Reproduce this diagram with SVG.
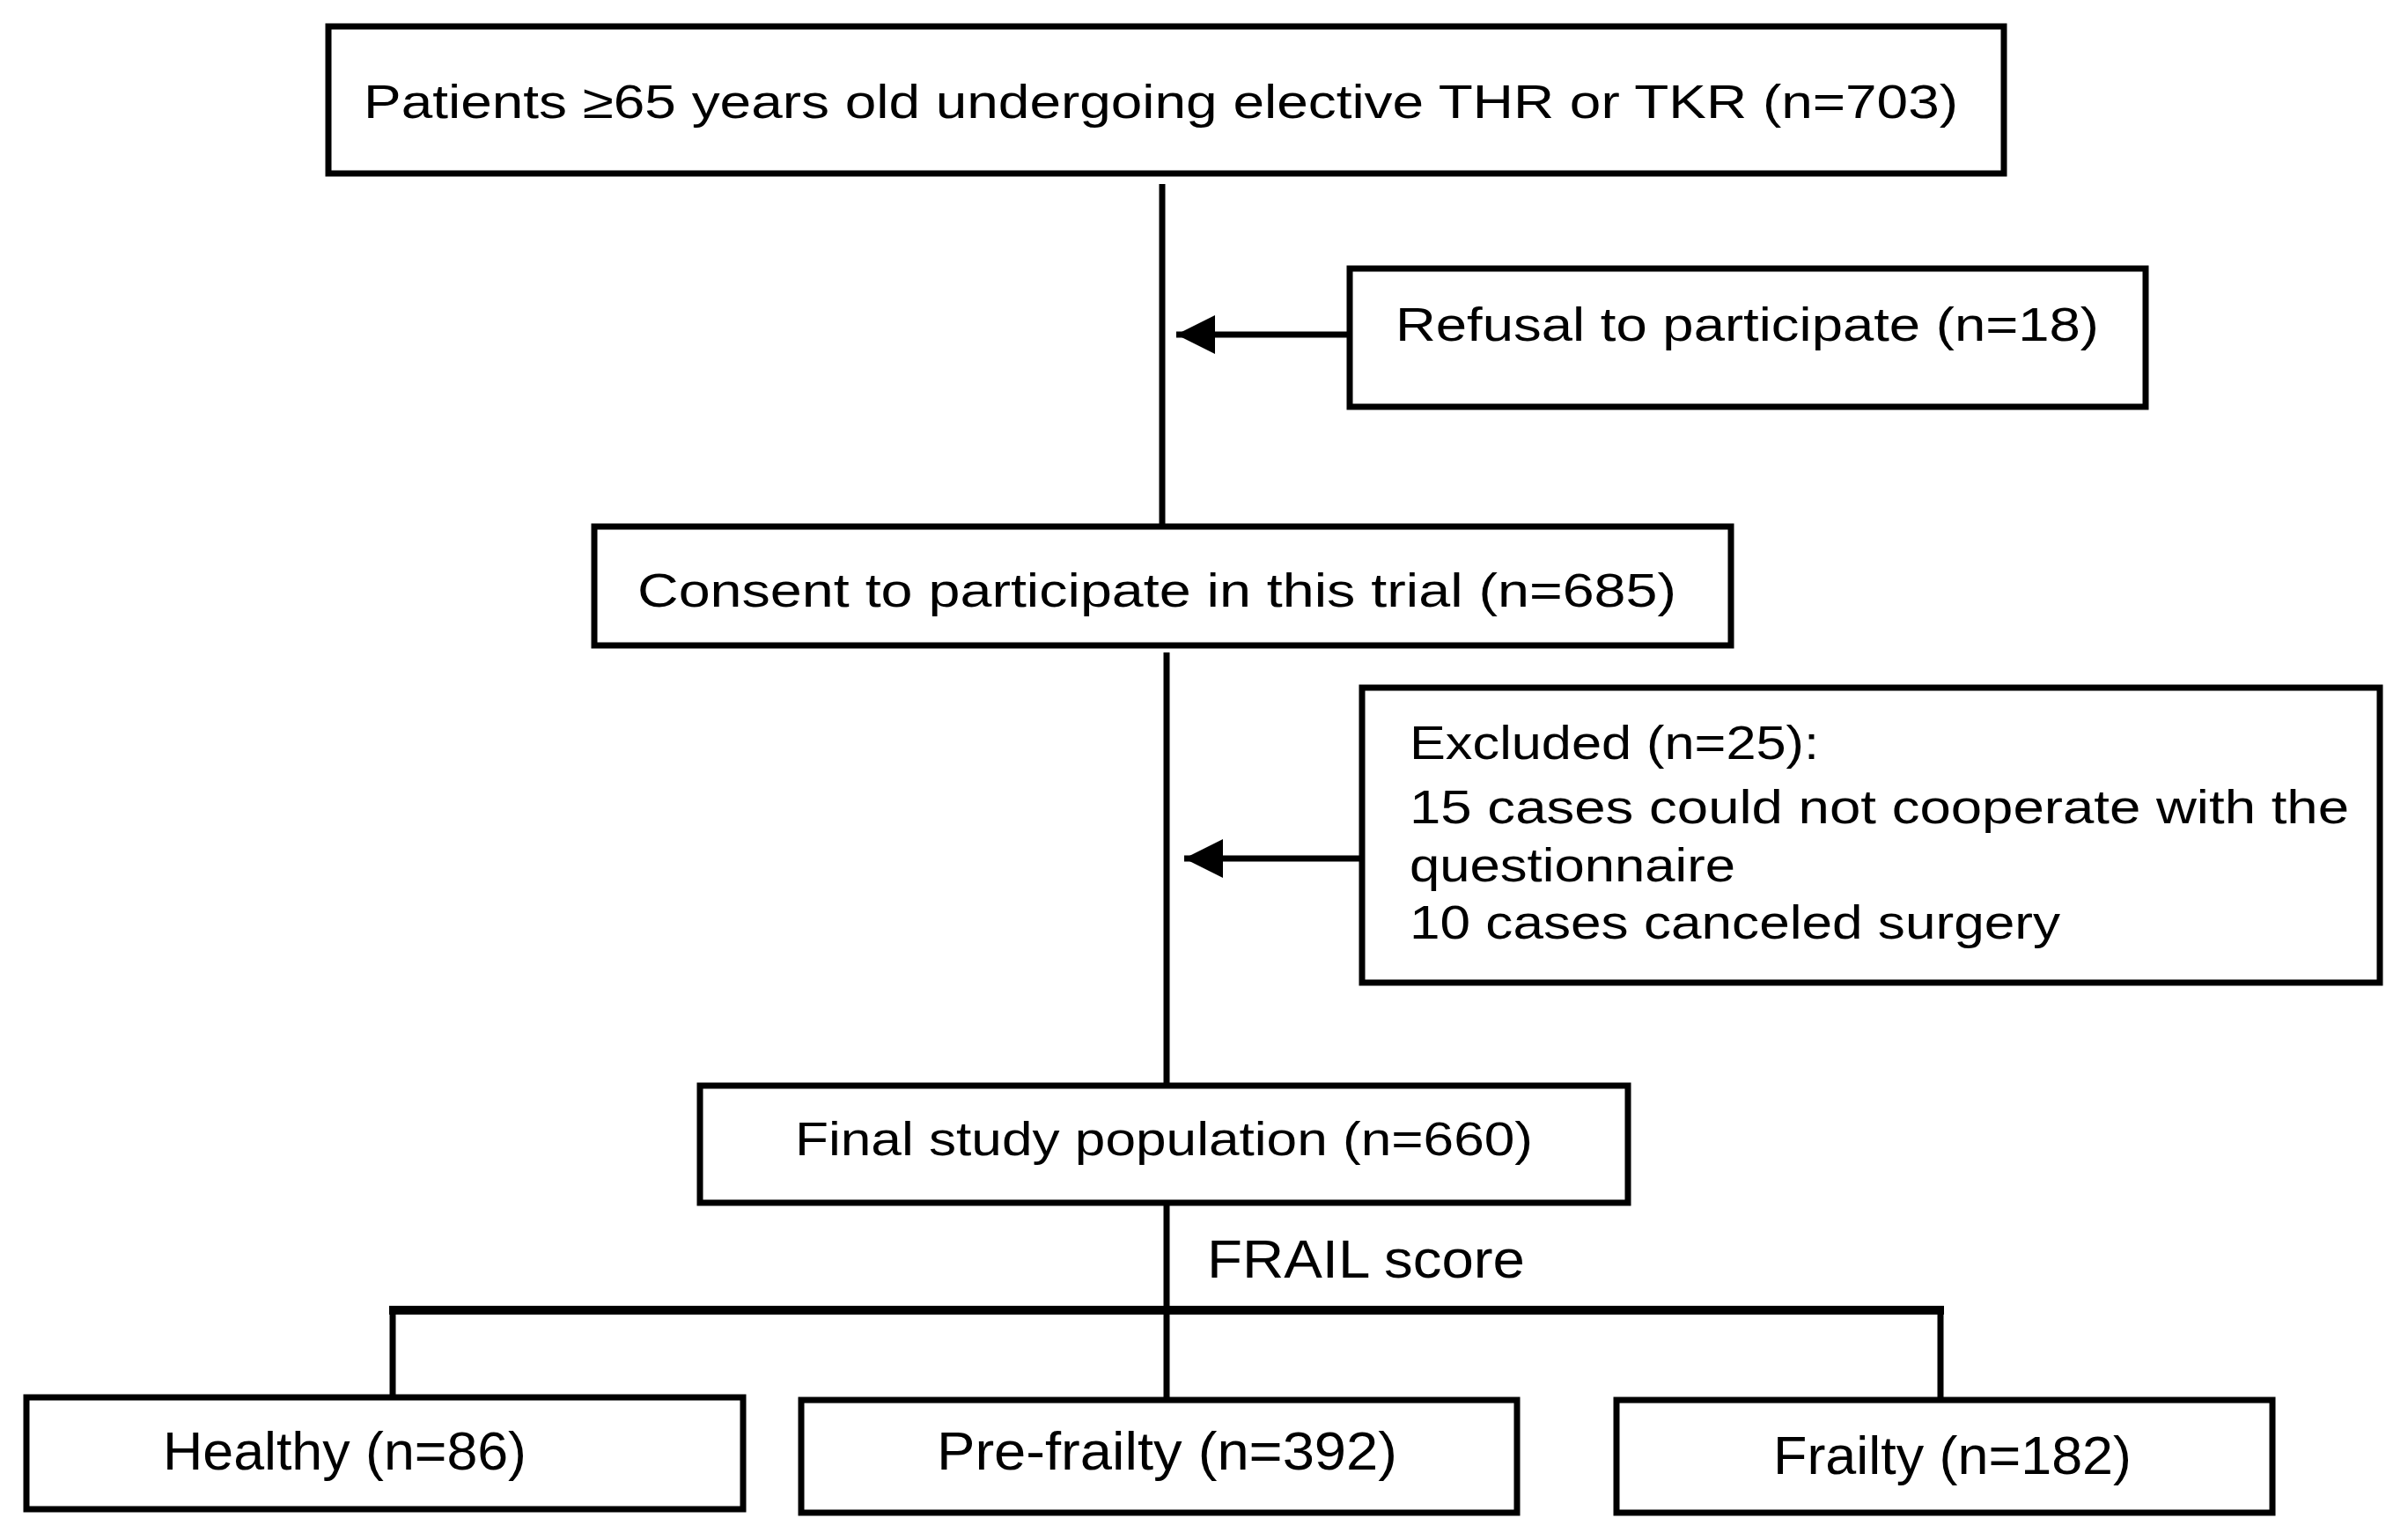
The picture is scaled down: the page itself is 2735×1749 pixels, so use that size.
<svg xmlns="http://www.w3.org/2000/svg" width="2735" height="1749" viewBox="0 0 2735 1749">
<style>
.box{fill:#fff;stroke:#000;stroke-width:7}
.t{font-family:"Liberation Sans",Arial,sans-serif;font-size:54px;fill:#000}
.b{font-family:"Liberation Sans",Arial,sans-serif;font-size:62px;fill:#000}
.c{stroke:#000;stroke-width:7;fill:none}
</style>
<defs><marker id="ah" markerWidth="8" markerHeight="8" refX="7" refY="4" orient="auto" markerUnits="userSpaceOnUse" viewBox="0 0 8 8"><path d="M0,0 L8,4 L0,8 z" fill="#000"/></marker>
<marker id="a" viewBox="0 0 10 10" refX="10" refY="5" markerWidth="44" markerHeight="44" markerUnits="userSpaceOnUse" orient="auto"><path d="M0,0 L10,5 L0,10 z" fill="#000"/></marker></defs>
<rect width="2735" height="1749" fill="#fff"/>
<g id="connectors">
<line class="c" x1="1320" y1="209" x2="1320" y2="598"/>
<line class="c" x1="1533" y1="380" x2="1336" y2="380" marker-end="url(#a)"/>
<line class="c" x1="1325" y1="741" x2="1325" y2="1233"/>
<line class="c" x1="1547" y1="975" x2="1345" y2="975" marker-end="url(#a)"/>
<line class="c" x1="1325" y1="1366" x2="1325" y2="1596"/>
<line class="c" x1="442" y1="1488" x2="2208" y2="1488" style="stroke-width:10"/>
<line class="c" x1="446" y1="1488" x2="446" y2="1600"/>
<line class="c" x1="2204" y1="1488" x2="2204" y2="1590"/>
<text class="b" x="1371" y="1451" textLength="361" lengthAdjust="spacingAndGlyphs">FRAIL score</text>
</g>
<g id="n1"><rect class="box" x="373" y="30" width="1903" height="167"/><text class="t" x="413" y="134" textLength="1811" lengthAdjust="spacingAndGlyphs">Patients ≥65 years old undergoing elective THR or TKR (n=703)</text></g>
<g id="n2"><rect class="box" x="1533" y="305" width="904" height="157"/><text class="t" x="1585" y="387" textLength="799" lengthAdjust="spacingAndGlyphs">Refusal to participate (n=18)</text></g>
<g id="n3"><rect class="box" x="675" y="598" width="1291" height="135"/><text class="t" x="724" y="689" textLength="1180" lengthAdjust="spacingAndGlyphs">Consent to participate in this trial (n=685)</text></g>
<g id="n4"><rect class="box" x="1547" y="781" width="1156" height="335"/>
<text class="t" x="1601" y="862" textLength="465" lengthAdjust="spacingAndGlyphs">Excluded (n=25):</text>
<text class="t" x="1601" y="935" textLength="1067" lengthAdjust="spacingAndGlyphs">15 cases could not cooperate with the</text>
<text class="t" x="1601" y="1001" textLength="370" lengthAdjust="spacingAndGlyphs">questionnaire</text>
<text class="t" x="1601" y="1066" textLength="739" lengthAdjust="spacingAndGlyphs">10 cases canceled surgery</text></g>
<g id="n5"><rect class="box" x="795" y="1233" width="1054" height="133"/><text class="t" x="903" y="1312" textLength="838" lengthAdjust="spacingAndGlyphs">Final study population (n=660)</text></g>
<g id="n6"><rect class="box" x="30" y="1587" width="814" height="127"/><text class="b" x="185" y="1669" textLength="413" lengthAdjust="spacingAndGlyphs">Healthy (n=86)</text></g>
<g id="n7"><rect class="box" x="910" y="1590" width="813" height="128"/><text class="b" x="1064" y="1669" textLength="523" lengthAdjust="spacingAndGlyphs">Pre-frailty (n=392)</text></g>
<g id="n8"><rect class="box" x="1836" y="1590" width="745" height="128"/><text class="b" x="2014" y="1674" textLength="407" lengthAdjust="spacingAndGlyphs">Frailty (n=182)</text></g>
</svg>
